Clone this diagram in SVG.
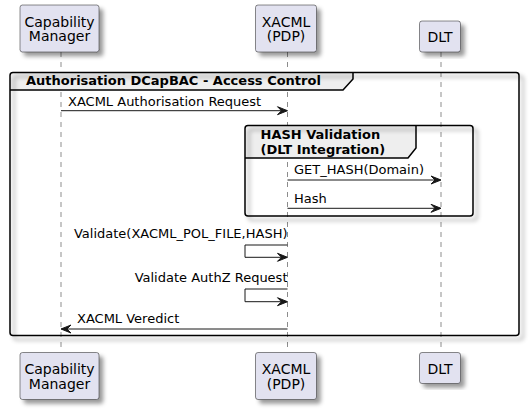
<svg xmlns="http://www.w3.org/2000/svg" width="529" height="410" viewBox="0 0 529 410">
<defs>
<filter id="sh" x="-10%" y="-10%" width="130%" height="130%">
<feGaussianBlur in="SourceAlpha" stdDeviation="2" result="b"/>
<feColorMatrix in="b" type="matrix" values="0 0 0 0 0  0 0 0 0 0  0 0 0 0 0  0 0 0 0.4 0" result="c"/>
<feOffset in="c" dx="4" dy="4" result="o"/>
<feMerge><feMergeNode in="o"/><feMergeNode in="SourceGraphic"/></feMerge>
</filter>
<style>
.pbox{fill:#E2E2F0;stroke:#181818;stroke-width:0.5;filter:url(#sh)}
.ptxt{font-family:"DejaVu Sans",sans-serif;font-size:14px;fill:#000;text-anchor:middle}
.life{stroke:#181818;stroke-width:0.5;stroke-dasharray:5,5;fill:none}
.frame{fill:none;stroke:#000;stroke-width:1.5;filter:url(#sh)}
.tab{fill:#EEEEEE;stroke:none}
.tabline{fill:none;stroke:#000;stroke-width:1.5}
.gtxt{font-family:"DejaVu Sans",sans-serif;font-size:13px;font-weight:bold;fill:#000}
.mtxt{font-family:"DejaVu Sans",sans-serif;font-size:13px;fill:#000}
.end{text-anchor:end}
.msg{stroke:#181818;stroke-width:1;fill:none}
.head{fill:#181818;stroke:#181818;stroke-width:1}
</style>
</defs>
<rect x="0" y="0" width="529" height="410" fill="#FFFFFF"/>

<g id="lifelines">
<line class="life" x1="61" y1="52" x2="61" y2="352"/>
<line class="life" x1="287.5" y1="52" x2="287.5" y2="352"/>
<line class="life" x1="441" y1="52" x2="441" y2="352"/>
</g>

<g id="p-capability-manager">
<rect class="pbox" x="20" y="5" width="79" height="47" rx="2.5"/>
<text class="ptxt" x="59.5" y="26.5">Capability</text>
<text class="ptxt" x="59.5" y="41">Manager</text>
<rect class="pbox" x="20" y="352.5" width="79" height="47" rx="2.5"/>
<text class="ptxt" x="59.5" y="374">Capability</text>
<text class="ptxt" x="59.5" y="388.5">Manager</text>
</g>

<g id="p-xacml">
<rect class="pbox" x="255.5" y="5" width="61" height="47" rx="2.5"/>
<text class="ptxt" x="286" y="26.5">XACML</text>
<text class="ptxt" x="286" y="41">(PDP)</text>
<rect class="pbox" x="255.5" y="352.5" width="61" height="47" rx="2.5"/>
<text class="ptxt" x="286" y="374">XACML</text>
<text class="ptxt" x="286" y="388.5">(PDP)</text>
</g>

<g id="p-dlt">
<rect class="pbox" x="419.5" y="21" width="41" height="31" rx="2.5"/>
<text class="ptxt" x="440" y="41.5">DLT</text>
<rect class="pbox" x="419.5" y="352.5" width="41" height="31" rx="2.5"/>
<text class="ptxt" x="440" y="373.5">DLT</text>
</g>

<g id="group-authorisation">
<path class="tab" d="M10,90 L10,75.5 Q10,72.5 13,72.5 L353,72.5 L353,79 L343,90 Z"/>
<rect class="frame" x="10" y="72.5" width="509" height="263" rx="3"/>
<path class="tabline" d="M10,90 L343,90 L353,79 L353,72.5"/>
<text class="gtxt" x="26" y="85">Authorisation DCapBAC - Access Control</text>
</g>

<g id="group-hash-validation">
<path class="tab" d="M245,158 L245,128.5 Q245,125.5 248,125.5 L416,125.5 L416,148 L408,158 Z"/>
<rect class="frame" x="245" y="125.5" width="228" height="90.5" rx="3"/>
<path class="tabline" d="M245,158 L408,158 L416,148 L416,125.5"/>
<text class="gtxt" x="260.5" y="138.5">HASH Validation</text>
<text class="gtxt" x="260.5" y="154">(DLT Integration)</text>
</g>

<g id="connectors">
<line class="msg" x1="61" y1="110.7" x2="286.5" y2="110.7"/>
<polygon class="head" points="277.5,106.7 287.5,110.7 277.5,114.7 281.5,110.7"/>
<text class="mtxt" x="68" y="106.3">XACML Authorisation Request</text>

<line class="msg" x1="287.5" y1="180" x2="440" y2="180"/>
<polygon class="head" points="431,176 441,180 431,184 435,180"/>
<text class="mtxt" x="294" y="174">GET_HASH(Domain)</text>

<line class="msg" x1="287.5" y1="208.3" x2="440" y2="208.3"/>
<polygon class="head" points="431,204.3 441,208.3 431,212.3 435,208.3"/>
<text class="mtxt" x="294" y="202.7">Hash</text>

<polyline class="msg" points="287.5,245 245,245 245,257.3 286.5,257.3"/>
<polygon class="head" points="277.5,253.3 287.5,257.3 277.5,261.3 281.5,257.3"/>
<text class="mtxt end" x="287.5" y="238.3">Validate(XACML_POL_FILE,HASH)</text>

<polyline class="msg" points="287.5,289 245,289 245,301.7 286.5,301.7"/>
<polygon class="head" points="277.5,297.7 287.5,301.7 277.5,305.7 281.5,301.7"/>
<text class="mtxt end" x="287.5" y="281.7">Validate AuthZ Request</text>

<line class="msg" x1="287.5" y1="329" x2="62" y2="329"/>
<polygon class="head" points="71,325 61,329 71,333 67,329"/>
<text class="mtxt" x="77" y="323.3">XACML Veredict</text>
</g>
</svg>
